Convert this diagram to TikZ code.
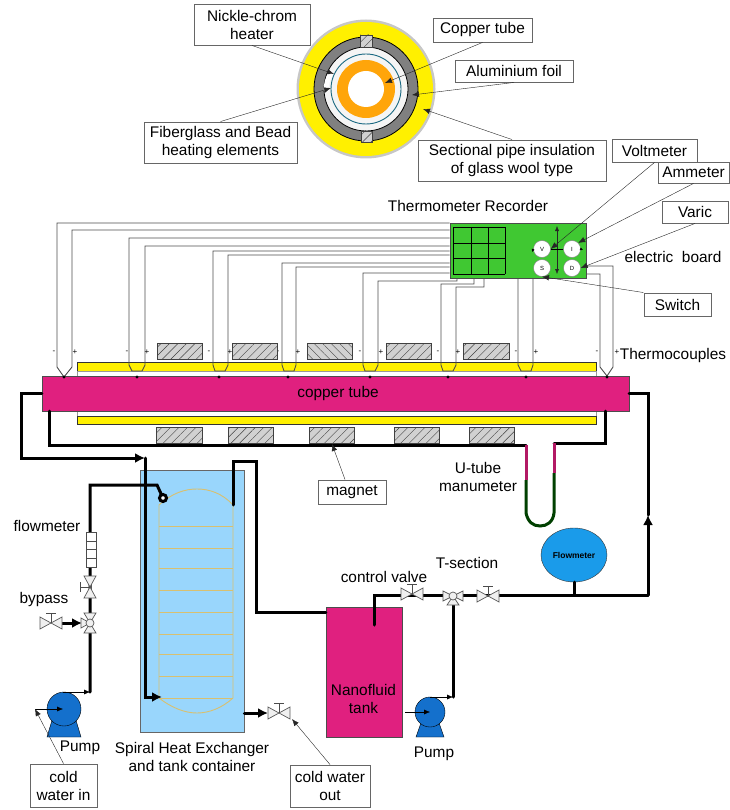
\documentclass[tikz,border=0pt]{standalone}
\usepackage{fontspec}
\setmainfont{Liberation Sans}
\usepackage{tikz}
\usetikzlibrary{arrows.meta, patterns.meta, shapes.geometric}
\definecolor{tubepink}{RGB}{224,32,127}
\definecolor{wool}{RGB}{255,240,0}
\definecolor{coreorange}{RGB}{255,165,10}
\definecolor{tankblue}{RGB}{153,214,252}
\definecolor{meterblue}{RGB}{26,155,234}
\definecolor{pumpblue}{RGB}{20,112,204}
\definecolor{boardgreen}{RGB}{64,200,50}
\definecolor{coilgold}{RGB}{216,192,112}
\definecolor{foilteal}{RGB}{26,105,130}
\tikzset{
  labelbox/.style={draw=black!60, line width=.9pt, fill=white, inner sep=0pt, align=center},
  callout/.style={-{Latex[length=7pt,width=5.5pt]}, black!85},
  smalltip/.style={-{Latex[length=6pt,width=5pt]}},
  wire/.style={black!70, line width=.9pt},
  pipe/.style={line width=3pt, line cap=round},
  pipetip/.style={pipe, -{Latex[length=10pt,width=10pt]}},
  hatchbar/.style={draw=black!75, line width=.9pt, preaction={fill=black!18}, pattern={Lines[angle=45,distance=6pt,line width=.4pt]}, pattern color=black!75},
  hatchrev/.style={draw=black!75, line width=.9pt, preaction={fill=black!18}, pattern={Lines[angle=-45,distance=6pt,line width=.4pt]}, pattern color=black!75},
  valvebody/.style={draw=black!65, fill=black!6, line width=.7pt},
  dialknob/.style={circle, draw=black!50, fill=white, inner sep=0pt, minimum size=17pt, font=\fontsize{6}{7}\selectfont},
  signtext/.style={inner sep=0pt, font=\fontsize{8}{8}\selectfont}
}
\begin{document}
\begin{tikzpicture}[x=1pt, y=-1pt, font=\fontsize{15.4}{18}\selectfont]
  \useasboundingbox (0,0) rectangle (729,810);
  \coordinate (core) at (366,89);
  \fill[black!22] (core) circle (69.5);
  \fill[wool] (core) circle (67);
  \draw[draw=black, fill=black!50, line width=.8pt] (core) circle (52);
  \draw[draw=black, fill=black!4, line width=.8pt] (core) circle (42);
  \draw[white, line width=5pt] (331,73) .. controls (328,78) and (326,84) .. (326,91);
  \draw[foilteal, line width=.9pt] (core) circle (35);
  \fill[coreorange] (core) circle (29);
  \fill[white] (core) circle (18);
  \draw[hatchbar] (360,35) rectangle (372,47);
  \draw[hatchbar] (361,131) rectangle (372,142);

  \node[labelbox, minimum width=116pt, minimum height=41pt] (nickle) at (252,24.5) {Nickle-chrom\\heater};
  \node[labelbox, minimum width=99pt, minimum height=24pt] (copper) at (482.5,30) {Copper tube};
  \node[labelbox, minimum width=118pt, minimum height=22pt] (foil) at (514,71) {Aluminium foil};
  \node[labelbox, minimum width=153pt, minimum height=41pt] (fiber) at (220.5,142.5) {Fiberglass and Bead\\heating elements};
  \node[labelbox, minimum width=188pt, minimum height=41pt] (section) at (512,160.5) {Sectional pipe insulation\\of glass wool type};
  \coordinate (heatgap) at (334,74);
  \coordinate (coretip) at (385,83);
  \coordinate (foiltip) at (412,95);
  \coordinate (beadtip) at (331,88);
  \coordinate (wooltip) at (423,109);
  \draw[callout] (nickle.south) -- (heatgap);
  \draw[callout] (copper.south) -- (coretip);
  \draw[callout] (foil.south) -- (foiltip);
  \draw[callout] (fiber.north) -- (beadtip);
  \draw[callout] (section.north) -- (wooltip);

  \fill[wool] (77,362) rectangle (596,371);
  \draw[black!80] (77,362) rectangle (596,371);
  \draw[black!40, fill=white] (77,371) rectangle (596,376);
  \draw[black!40, fill=white] (77,411) rectangle (596,416);
  \draw[black!80, fill=wool] (77,416) rectangle (596,424);
  \node[draw=black!70, fill=tubepink, minimum width=587pt, minimum height=35pt, inner sep=0pt] (tube) at (335.5,393.5) {};
  \node[inner sep=0pt] (tubelab) at (338,394) {copper tube};

  \node[draw=black!70, line width=.9pt, fill=boardgreen, minimum width=136pt, minimum height=55pt, inner sep=0pt] (board) at (518,250.5) {};
  \foreach \x in {453,471,488,505}
    \draw[line width=.9pt] (\x,227) -- (\x,274);
  \foreach \y in {227,243,258,274}
    \draw[line width=.9pt] (453,\y) -- (505,\y);
  \node[dialknob] (dialv) at (542,249) {V};
  \node[dialknob] (diali) at (572,249) {I};
  \node[dialknob] (dials) at (542,268) {S};
  \node[dialknob] (diald) at (572,268) {D};
  \draw[{Latex[length=5pt,width=4pt]}-{Latex[length=5pt,width=4pt]}, black!85] (557,226) -- (557,274);
  \draw (dialv) -- (diali);
  \draw[-{Latex[length=3pt,width=3pt]}] (dialv.west) -- (532,252);
  \draw[-{Latex[length=3pt,width=3pt]}] (diali.east) -- (583,250);

  \draw[wire] (board.west |- 0,223) -| (57,367) -- (64,377) -- (72,367) |- (board.west |- 0,230);
  \foreach \xa/\xb/\ya/\yb/\xt in {129/145/238/246/137, 213/228/251/255/220, 282/296/263/267/289}
    \draw[wire] (board.west |- 0,\ya) -| (\xa,365) -- (\xt-5,371) -- (\xt+5,371) -- (\xb,365) |- (board.west |- 0,\yb);
  \draw[wire] (board.west |- 0,273) -| (363,365) -- (365,371) -- (375,371) -- (378,365) |- (457,281) -- (457,278);
  \draw[wire] (474,278) -- (474,284) -| (441,365) -- (443,371) -- (453,371) -- (456,365) |- (484,287) -- (484,278);
  \draw[wire] (518,278) -- (518,365) -- (521,371) -- (531,371) -- (533,365) -- (533,278);
  \draw[wire] (board.east |- 0,274) -| (600,367) -- (607,376) -- (613,367) |- (board.east |- 0,266);
  \foreach \x in {64,137,219,288,370,448,526,607}
    \fill (\x,377) circle (1.6);
  \foreach \m/\p [count=\i] in {54/75, 127/147, 209/230, 278/298, 360/381, 438/458, 516/536, 597/617}
    { \node[signtext] (minus\i) at (\m,352) {-}; \node[signtext] (plus\i) at (\p,352) {+}; }

  \foreach \xa/\xb in {157/202, 232/277, 386/431, 463/509}
    \draw[hatchbar] (\xa,343) rectangle (\xb,359);
  \draw[hatchrev] (307,343) rectangle (352,359);
  \foreach \xa/\xb in {156/202, 228/273, 309/354, 394/439, 469/514}
    \draw[hatchbar] (\xa,427) rectangle (\xb,443);

  \node[inner sep=0pt] (recorder) at (468,206) {Thermometer Recorder};
  \node[inner sep=0pt] (eboard) at (673,257) {electric\ \ board};
  \node[inner sep=0pt] (couples) at (673,356) {Thermocouples};
  \node[labelbox, minimum width=85pt, minimum height=23pt] (voltmeter) at (654.5,150.5) {Voltmeter};
  \node[labelbox, minimum width=71pt, minimum height=21pt] (ammeter) at (693.5,172.5) {Ammeter};
  \node[labelbox, minimum width=66pt, minimum height=22pt] (varic) at (695,212) {Varic};
  \node[labelbox, minimum width=67pt, minimum height=23pt] (switch) at (677.5,304.5) {Switch};
  \draw[callout] (voltmeter.south) -- (dialv.east);
  \draw[callout] (ammeter.south) -- (diali.north east);
  \draw[callout] (varic.south) -- (diald.east);
  \draw[callout] (switch.north west) -- (dials.south);

  \coordinate (ulimbl) at (526,445);
  \coordinate (ulimbr) at (554,443);
  \draw[pipe] ([xshift=8pt]tube.south west) |- (ulimbl);
  \draw[pipe] (ulimbr) -| ([xshift=-24pt]tube.south east);
  \draw[line width=3pt, green!25!black] (526,480) -- (526,513) .. controls (528,522) and (533,526) .. (540,526) .. controls (547,526) and (553,522) .. (554,513) -- (554,473);
  \draw[line width=3pt, tubepink!80!black] (ulimbl) -- (526,480);
  \draw[line width=3pt, tubepink!80!black] (ulimbr) -- (554,473);
  \node[align=center, inner sep=0pt] (manometer) at (478,476.5) {U-tube\\manumeter};
  \node[labelbox, minimum width=68pt, minimum height=24pt] (magnet) at (352,492) {magnet};
  \coordinate (magnettip) at (332,444);
  \draw[callout] ([xshift=-7pt]magnet.north) -- (magnettip);

  \node[draw=black!60, line width=.9pt, fill=tankblue, minimum width=104pt, minimum height=262pt, inner sep=0pt] (exchanger) at (192,601) {};
  \draw[coilgold, line width=.9pt] (159,505) .. controls (172,493) and (185,489) .. (197,489) .. controls (209,489) and (222,493) .. (233,505) -- (233,698) .. controls (222,708) and (209,713) .. (197,713) .. controls (185,713) and (172,708) .. (159,698) -- cycle;
  \foreach \y in {526,548,568,590,612,634,654,676,698}
    \draw[coilgold, line width=.9pt] (159,\y) -- (233,\y);
  \node[align=center, inner sep=0pt] (exchlab) at (192,757) {Spiral Heat Exchanger\\and tank container};

  \node[draw=black!70, fill=tubepink, minimum width=76pt, minimum height=130pt, inner sep=0pt] (tank) at (364,672) {};
  \node[align=center, inner sep=0pt] (tanklab) at (363.5,699) {Nanofluid\\tank};

  \coordinate (coilin) at (163,498);
  \draw[pipetip] (tube.west) -| (21,458) -- (145,458);
  \draw[pipetip] (145,458) |- (162,697);
  \draw[pipe] (90,692) |- (157,485) -- (coilin);
  \draw[pipe, fill=white] (coilin) circle (3.5);
  \draw[pipe] (tank.west |- 0,612) -- (256,612) |- (233,461) -- (233,505);
  \draw[pipe] (tube.east) -| (648,515);
  \draw[pipetip] (648,595) -- (648,515);
  \draw[pipe] (648,595) -- (374,595) -- (374,625);
  \draw[pipe] (453,697) -- (453,605);
  \draw[pipetip] (62,623) -- (82,623);
  \draw[pipetip] (exchanger.east |- 0,713) -- (268,713);

  \node[ellipse, draw=black!80, fill=meterblue, minimum width=66pt, minimum height=54pt, inner sep=0pt, font=\fontsize{8.5}{9}\bfseries\selectfont] (flowball) at (574,555) {Flowmeter};
  \draw[pipe] (flowball.south) -- (574,595);

  \foreach \x/\y in {51/623, 412/594, 488/596, 279/713}
    { \draw[valvebody] (\x-11,\y-6) -- (\x+11,\y+6) -- (\x+11,\y-6) -- (\x-11,\y+6) -- cycle;
      \draw[black!70, line width=.7pt] (\x,\y) -- (\x,\y-10) (\x-5,\y-10) -- (\x+5,\y-10); }
  \draw[valvebody] (84,576) -- (96,598) -- (84,598) -- (96,576) -- cycle;
  \draw[black!70, line width=.7pt] (90,587) -- (80,587) (80,582) -- (80,592);
  \draw[valvebody] (84,613) -- (96,633) -- (84,633) -- (96,613) -- cycle;
  \draw[valvebody] (90,623) -- (81,618) -- (81,628) -- cycle;
  \draw[valvebody] (90,623) circle (4);
  \draw[valvebody] (443,591) -- (463,601) -- (463,591) -- (443,601) -- cycle;
  \draw[valvebody] (453,596) -- (447,605) -- (459,605) -- cycle;
  \draw[valvebody] (453,596) circle (4);

  \draw[black!70, line width=.8pt, fill=white] (86,532) rectangle (96,567);
  \foreach \y in {541,549,558}
    \draw[black!70, line width=.8pt] (86,\y) -- (96,\y);

  \foreach \x/\y/\r/\w in {64/709/17/17, 430/712/15/14}
    { \draw[fill=pumpblue] (\x-\w,737) -- (\x-\w+6,\y+8) -- (\x+\w-6,\y+8) -- (\x+\w,737) -- cycle;
      \draw[fill=pumpblue] (\x,\y) circle (\r); }
  \coordinate (pumpain) at (35,709);
  \coordinate (pumpbin) at (405,712);
  \draw[smalltip] (pumpain) -- (63,709);
  \draw[smalltip] (pumpbin) -- (430,712);
  \draw[smalltip] (63,692) -- (90,692);
  \draw[smalltip] (430,697) -- (453,697);

  \node[inner sep=0pt] (flowlab) at (47,526) {flowmeter};
  \node[inner sep=0pt] (bypasslab) at (44,600) {bypass};
  \node[inner sep=0pt] (pumpalab) at (80,748) {Pump};
  \node[inner sep=0pt] (pumpblab) at (434,754) {Pump};
  \node[inner sep=0pt] (valvelab) at (384,577) {control valve};
  \node[inner sep=0pt] (teelab) at (467,563) {T-section};
  \node[labelbox, minimum width=67pt, minimum height=43pt] (waterin) at (63.5,785.5) {cold\\water in};
  \node[labelbox, minimum width=80pt, minimum height=42pt] (waterout) at (330,786) {cold water\\out};
  \coordinate (outtip) at (292,719);
  \draw[callout] (waterin.north) -- (pumpain);
  \draw[callout] (waterout.north) -- (outtip);
\end{tikzpicture}
\end{document}
